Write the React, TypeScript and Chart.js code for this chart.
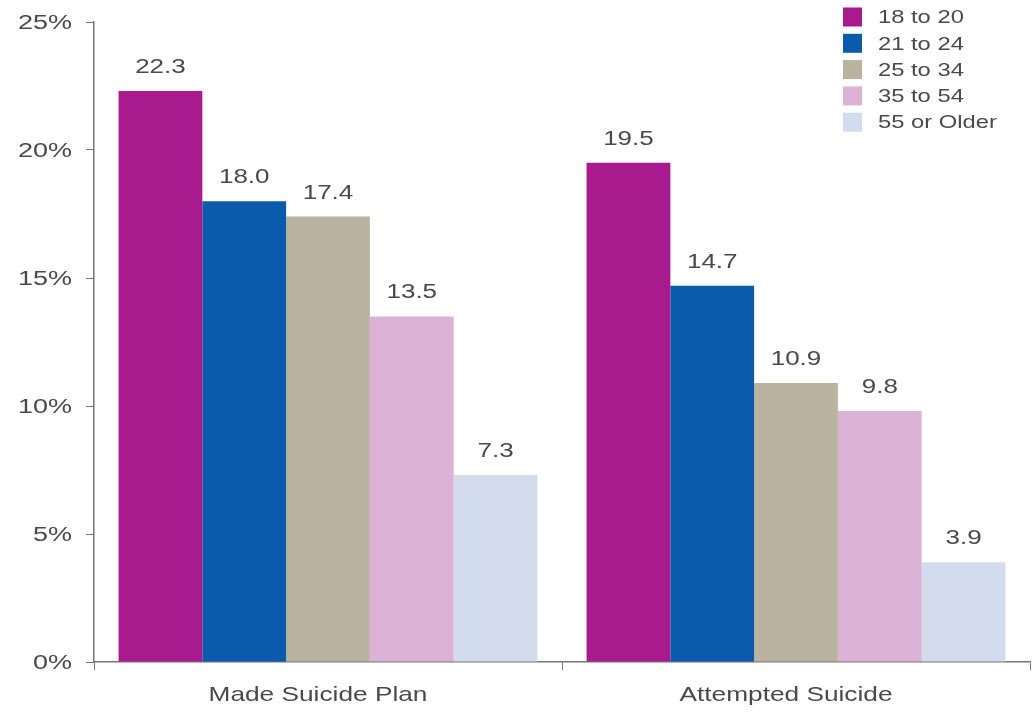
import React, { useEffect, useRef } from "react";
import { Chart, registerables } from "chart.js";

Chart.register(...registerables);

const categories = ["Made Suicide Plan", "Attempted Suicide"];
const seriesLabels = ["18 to 20", "21 to 24", "25 to 34", "35 to 54", "55 or Older"];
const age18to20 = [22.3, 19.5];
const age21to24 = [18.0, 14.7];
const age25to34 = [17.4, 10.9];
const age35to54 = [13.5, 9.8];
const age55plus = [7.3, 3.9];
const seriesColors = ["#A81A8E", "#0B5BAC", "#B9B39F", "#DCB1D6", "#D2DCEC"];
const yTicks = [0, 5, 10, 15, 20, 25];

const FONT = "'Liberation Sans', Arial, sans-serif";
const TEXT_COLOR = "#4a4a4a";

function drawText(
  ctx: CanvasRenderingContext2D,
  text: string,
  x: number,
  y: number,
  size: number,
  sx: number,
  align: CanvasTextAlign,
  baseline: CanvasTextBaseline = "alphabetic"
) {
  ctx.save();
  ctx.font = `${size}px ${FONT}`;
  ctx.fillStyle = TEXT_COLOR;
  ctx.translate(x, y);
  ctx.scale(sx, 1);
  ctx.textAlign = align;
  ctx.textBaseline = baseline;
  ctx.fillText(text, 0, 0);
  ctx.restore();
}

const textPlugin = {
  id: "textPlugin",
  afterDraw(chart: any) {
    const ctx = chart.ctx as CanvasRenderingContext2D;
    const ys = chart.scales.y;
    const xs = chart.scales.x;
    // y tick labels
    yTicks.forEach((v) => {
      drawText(ctx, `${v}%`, 72, ys.getPixelForValue(v) + 1, 20, 1.35, "right", "middle");
    });
    // category labels
    categories.forEach((c, i) => {
      drawText(ctx, c, xs.getPixelForValue(i) - 10, 701, 21, 1.25, "center");
    });
    // value labels
    chart.data.datasets.forEach((ds: any, i: number) => {
      const meta = chart.getDatasetMeta(i);
      meta.data.forEach((bar: any, j: number) => {
        drawText(ctx, Number(ds.data[j]).toFixed(1), bar.x, bar.y - 18, 20, 1.3, "center");
      });
    });
    // legend
    chart.data.datasets.forEach((ds: any, i: number) => {
      const y = 17 + i * 26.3;
      ctx.save();
      ctx.fillStyle = ds.backgroundColor;
      ctx.fillRect(843, y - 9.5, 19, 19);
      ctx.restore();
      drawText(ctx, ds.label, 878, y + 1, 19, 1.25, "left", "middle");
    });
  },
};

export default function App() {
  const ref = useRef<HTMLCanvasElement>(null);
  useEffect(() => {
    document.body.style.margin = "0";
    const seriesData = [age18to20, age21to24, age25to34, age35to54, age55plus];
    const chart = new Chart(ref.current!, {
      type: "bar",
      data: {
        labels: categories,
        datasets: seriesLabels.map((label, i) => ({
          label,
          data: seriesData[i],
          backgroundColor: seriesColors[i],
          borderWidth: 0,
          categoryPercentage: 0.895,
          barPercentage: 1.0,
        })),
      },
      options: {
        animation: false,
        responsive: false,
        maintainAspectRatio: false,
        layout: { padding: { top: 22, right: 2, left: 0, bottom: 0 } },
        plugins: {
          legend: { display: false },
          tooltip: { enabled: false },
        },
        scales: {
          x: {
            grid: {
              drawOnChartArea: false,
              drawTicks: true,
              tickLength: 8,
              color: "#777",
              offset: true,
            },
            border: { display: true, color: "#777", width: 1.5 },
            ticks: { display: false },
            afterFit(scale: any) {
              scale.height = 59;
            },
          },
          y: {
            min: 0,
            max: 25,
            afterBuildTicks(scale: any) {
              scale.ticks = yTicks.map((v) => ({ value: v }));
            },
            grid: {
              drawOnChartArea: false,
              drawTicks: true,
              tickLength: 8,
              color: "#777",
            },
            border: { display: true, color: "#777", width: 1.5 },
            ticks: { display: false },
            afterFit(scale: any) {
              scale.width = 94;
            },
          },
        },
      },
      plugins: [textPlugin],
    });
    return () => chart.destroy();
  }, []);
  return (
    <div style={{ position: "absolute", left: 0, top: 0, width: 1032, height: 721, background: "#fff" }}>
      <canvas ref={ref} width={1032} height={721} style={{ width: 1032, height: 721 }} />
    </div>
  );
}
